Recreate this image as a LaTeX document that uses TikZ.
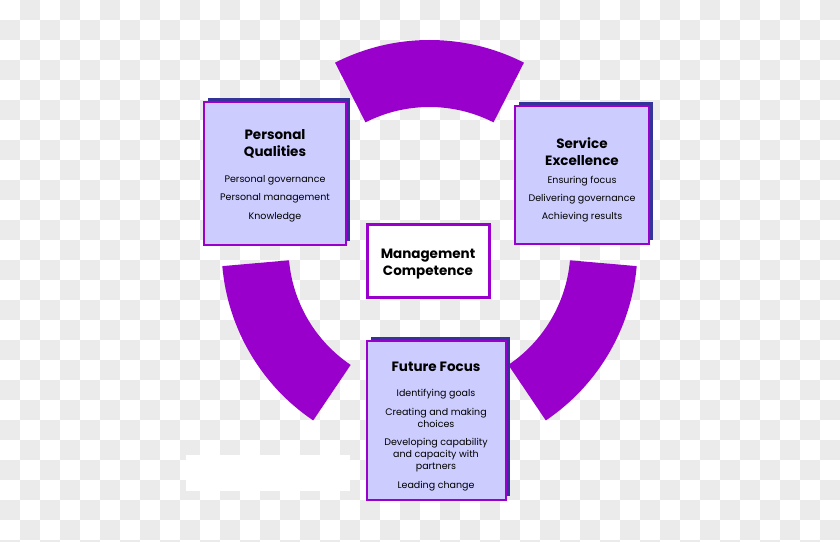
\documentclass[tikz,border=0pt]{standalone}
\usepackage{fontspec}
\setmainfont{Poppins}
\usetikzlibrary{shadows}
\definecolor{ringpurple}{RGB}{153,0,204}
\definecolor{boxlilac}{RGB}{204,204,255}
\definecolor{shadowblue}{RGB}{51,51,153}
\definecolor{checkgray}{RGB}{235,235,235}

\begin{document}
\begin{tikzpicture}[x=1pt,y=1pt,
    ring/.style={fill=ringpurple,draw=none},
    panel/.style={draw=ringpurple,line width=1.5pt,fill=boxlilac,general shadow={fill=shadowblue,shadow xshift=4pt,shadow yshift=4pt}},
    core/.style={draw=ringpurple,line width=3pt,fill=white},
    title/.style={font=\fontsize{13.5}{17}\selectfont\bfseries,align=center},
    item/.style={font=\fontsize{9.5}{12}\selectfont,align=center}]
  \useasboundingbox (0,0) rectangle (840,541);
  \clip (0,0) rectangle (840,541);
  % checker background
  \fill[white] (0,0) rectangle (840,541);
  \foreach \i in {0,...,41}
    \foreach \j in {0,...,27}{
      \pgfmathtruncatemacro{\odd}{mod(\i+\j,2)}
      \ifnum\odd=1 \fill[checkgray] (20*\i,541-20*\j) rectangle ++(20,-20); \fi
    }
  \fill[white] (186,50) rectangle (350,86);
  % ring segments
  \coordinate (c) at (429.5,293);
  \foreach \a/\b in {63/117,185/236,304/355}
    \fill[ring] (c) ++(\a:208) arc[start angle=\a,end angle=\b,radius=208] -- ++(\b:-67) arc[start angle=\b,end angle=\a,radius=141] -- cycle;
  % boxes
  \node[panel,minimum width=142pt,minimum height=143pt] (pq) at (275,367.5) {};
  \node[panel,minimum width=134pt,minimum height=138pt] (se) at (582,366) {};
  \node[panel,minimum width=139pt,minimum height=159pt] (ff) at (436.5,120.5) {};
  \node[core,minimum width=122pt,minimum height=73pt] (mc) at (428,279.5) {};
  % texts
  \node[title] (pqtitle) at (275,397.5) {Personal\\Qualities};
  \node[item] (pq1) at (275,361) {Personal governance};
  \node[item] (pq2) at (275,343) {Personal management};
  \node[item] (pq3) at (275,324) {Knowledge};
  \node[title] (setitle) at (582,389) {Service\\Excellence};
  \node[item] (se1) at (582,360) {Ensuring focus};
  \node[item] (se2) at (582,342) {Delivering governance};
  \node[item] (se3) at (582,324) {Achieving results};
  \node[title] (mctitle) at (428,277) {Management\\Competence};
  \node[title] (fftitle) at (436,174) {Future Focus};
  \node[item] (ff1) at (436,147) {Identifying goals};
  \node[item] (ff2) at (436,123) {Creating and making\\choices};
  \node[item] (ff3) at (436,86) {Developing capability\\and capacity with\\partners};
  \node[item] (ff4) at (436,55) {Leading change};
\end{tikzpicture}
\end{document}
